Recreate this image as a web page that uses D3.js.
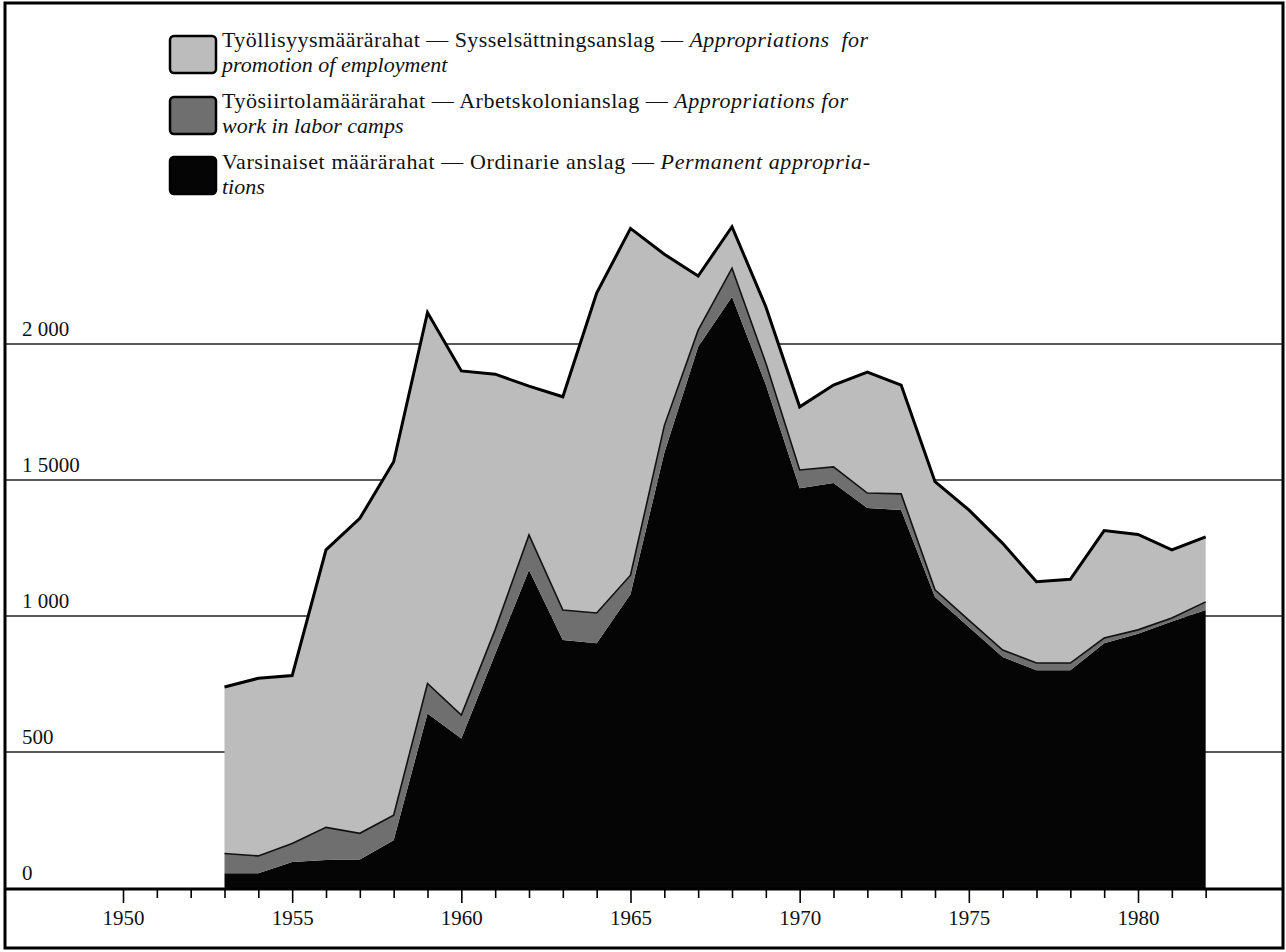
<!DOCTYPE html>
<html>
<head>
<meta charset="utf-8">
<script src="https://cdn.jsdelivr.net/npm/d3@7"></script>
<style>
  body { margin: 0; background: #fff; }
  svg { display: block; }
  text { font-family: "Liberation Serif", "Times New Roman", serif; fill: #111; }
</style>
</head>
<body>
<svg class="chart" width="1286" height="952"></svg>
<script>
// yearly appropriations, stacked
var years = d3.range(1953, 1983);
var ordinary   = [54,54,96,103,105,176,642,550,860,1169,912,900,1080,1600,1990,2174,1850,1470,1489,1397,1390,1070,960,849,801,801,900,935,980,1022];
var laborCamps = [73,64,68,120,96,92,110,86,90,129,110,111,70,100,61,105,80,67,59,55,59,26,25,26,26,26,19,14,13,30];
var employment = [612,653,617,1020,1158,1299,1364,1265,939,547,784,1176,1275,630,199,152,207,232,301,445,400,398,405,392,299,308,395,351,250,239];

var yTicks = [0, 500, 1000, 1500, 2000];
var yTickLabels = ["0", "500", "1 000", "1 5000", "2 000"];
var xTickYears = d3.range(1950, 1983);

var legendNames = [
  ["Työllisyysmäärärahat — Sysselsättningsanslag — ", "Appropriations  for", "promotion of employment"],
  ["Työsiirtolamäärärahat — Arbetskolonianslag — ", "Appropriations for", "work in labor camps"],
  ["Varsinaiset määrärahat — Ordinarie anslag — ", "Permanent appropria-", "tions"]
];
var layerColors = ["#050505", "#6f6f6f", "#bcbcbc"];

var serif = "'Liberation Serif', 'Times New Roman', serif";
var frame = {left: 5, top: 3, right: 1283, bottom: 948};

var svg = d3.select(".chart");

var xScale = d3.scaleLinear().domain([1950, 1980]).range([123, 1138]);
var yScale = d3.scaleLinear().domain([0, 2000]).range([888, 344]);

//build table for the stack
var table = years.map((y, i) => ({
  year: y, ordinary: ordinary[i], camps: laborCamps[i], employment: employment[i]
}));
var series = d3.stack().keys(["ordinary", "camps", "employment"])(table);

// gridlines (behind the areas)
svg.append("g").attr("class", "grid")
  .selectAll("line")
  .data(yTicks.filter(d => d > 0))
  .join("line")
  .attr("x1", frame.left).attr("x2", frame.right)
  .attr("y1", d => yScale(d)).attr("y2", d => yScale(d))
  .style("stroke", "#222").style("stroke-width", 1.6);

var area = d3.area()
  .x(d => xScale(d.data.year))
  .y0(d => yScale(d[0]))
  .y1(d => yScale(d[1]));

svg.append("g").attr("class", "layers")
  .selectAll("path")
  .data(series)
  .join("path")
  .attr("d", area)
  .style("fill", (d, i) => layerColors[i]);

// outline on top of labor camps layer and the total
var topLine = d3.line()
  .x(d => xScale(d.data.year))
  .y(d => yScale(d[1]));

svg.append("path")
  .attr("d", topLine(series[1]))
  .style("fill", "none").style("stroke", "#111").style("stroke-width", 1.6);

svg.append("path")
  .attr("d", topLine(series[2]))
  .style("fill", "none").style("stroke", "#000").style("stroke-width", 3)
  .style("stroke-linejoin", "miter");

// y labels
svg.append("g").attr("class", "y-labels")
  .selectAll("text")
  .data(yTicks)
  .join("text")
  .attr("x", 22)
  .attr("y", d => yScale(d) - 8)
  .style("font-family", serif)
  .style("font-size", "21px")
  .text((d, i) => yTickLabels[i]);

// x axis
var xAxis = d3.axisBottom(xScale)
  .tickValues(xTickYears)
  .tickFormat(d => d % 5 == 0 ? d : "")
  .tickSizeOuter(0);

var axisG = svg.append("g")
  .attr("class", "x-axis")
  .attr("transform", "translate(0,889)")
  .call(xAxis);
axisG.select(".domain").remove();
axisG.selectAll(".tick line")
  .attr("y2", d => d % 5 == 0 ? 14 : 9)
  .style("stroke", "#000").style("stroke-width", 1.6);
axisG.selectAll(".tick text")
  .attr("y", 36).attr("dy", 0)
  .style("font-size", "21px")
  .style("font-family", serif)
  .style("fill", "#111");

svg.append("line")
  .attr("x1", frame.left).attr("x2", frame.right)
  .attr("y1", 889).attr("y2", 889)
  .style("stroke", "#000").style("stroke-width", 3);

// legend
var legend = svg.append("g").attr("class", "legend");
var legendTop = [36, 97, 157];
var legendBase = [47, 108, 169];
var firstLineWidth = [646, 626, 648];

legend.selectAll("rect")
  .data([2, 1, 0])
  .join("rect")
  .attr("x", 170).attr("y", (d, i) => legendTop[i])
  .attr("width", 46).attr("height", 37)
  .attr("rx", 4)
  .style("fill", d => layerColors[d])
  .style("stroke", "#000").style("stroke-width", 2.5);

legendNames.forEach((n, i) => {
  var t = legend.append("text")
    .attr("x", 222).attr("y", legendBase[i])
    .attr("textLength", firstLineWidth[i])
    .attr("lengthAdjust", "spacing")
    .style("font-family", serif)
    .style("font-size", "22px")
    .style("white-space", "pre");
  t.append("tspan").text(n[0]);
  t.append("tspan").style("font-style", "italic").text(n[1]);
  legend.append("text")
    .attr("x", 222).attr("y", legendBase[i] + 25)
    .style("font-family", serif)
    .style("font-size", "22px").style("font-style", "italic")
    .text(n[2]);
});

// outer frame
svg.append("rect")
  .attr("x", frame.left).attr("y", frame.top)
  .attr("width", frame.right - frame.left).attr("height", frame.bottom - frame.top)
  .style("fill", "none").style("stroke", "#000").style("stroke-width", 3);
</script>
</body>
</html>
